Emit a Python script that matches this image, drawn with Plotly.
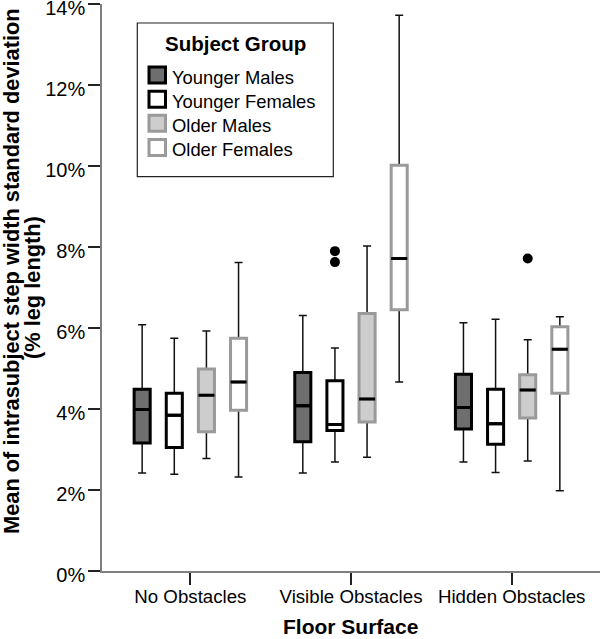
import plotly.graph_objects as go

# ---- data (values in % of leg length) ----
surfaces = ["No Obstacles", "Visible Obstacles", "Hidden Obstacles"]
groups = ["Younger Males", "Younger Females", "Older Males", "Older Females"]

lower_whisker = {
    "Younger Males":   [2.42, 2.42, 2.69],
    "Younger Females": [2.39, 2.69, 2.43],
    "Older Males":     [2.78, 2.81, 2.72],
    "Older Females":   [2.32, 4.67, 1.98],
}
q1_vals = {
    "Younger Males":   [3.16, 3.19, 3.51],
    "Younger Females": [3.05, 3.47, 3.13],
    "Older Males":     [3.44, 3.68, 3.78],
    "Older Females":   [3.97, 6.45, 4.39],
}
median_vals = {
    "Younger Males":   [3.99, 4.08, 4.04],
    "Younger Females": [3.85, 3.62, 3.64],
    "Older Males":     [4.34, 4.25, 4.47],
    "Older Females":   [4.67, 7.72, 5.48],
}
q3_vals = {
    "Younger Males":   [4.49, 4.90, 4.86],
    "Younger Females": [4.39, 4.70, 4.49],
    "Older Males":     [4.99, 6.36, 4.85],
    "Older Females":   [5.75, 10.02, 6.03],
}
upper_whisker = {
    "Younger Males":   [6.08, 6.31, 6.13],
    "Younger Females": [5.75, 5.51, 6.22],
    "Older Males":     [5.93, 8.03, 5.71],
    "Older Females":   [7.62, 13.73, 6.28],
}
# outlier points: (group, surface, values)
outlier_group = ["Younger Females", "Older Males"]
outlier_surface = ["Visible Obstacles", "Hidden Obstacles"]
outlier_values = [[7.63, 7.90], [7.72]]

y_ticks = [0, 2, 4, 6, 8, 10, 12, 14]
y_tick_text = ["0%", "2%", "4%", "6%", "8%", "10%", "12%", "14%"]

# ---- styles ----
fill_colors = {"Younger Males": "#6e6e6e", "Younger Females": "#ffffff",
               "Older Males": "#cdcdcd", "Older Females": "#ffffff"}
line_colors = {"Younger Males": "#000000", "Younger Females": "#000000",
               "Older Males": "#9a9a9a", "Older Females": "#9a9a9a"}
FONT = "Liberation Sans, Arial, sans-serif"

# plot-area geometry (pixels)
W_FIG, H_FIG = 600, 639
M_L, M_R, M_T, M_B = 102, 0, 4.3, 68.3
PW = W_FIG - M_L - M_R
PH = H_FIG - M_T - M_B


def px_x(p):
    return (p - M_L) / PW


def px_y(p):
    return (H_FIG - M_B - p) / PH


fig = go.Figure()

# layer 1: thin black whiskers
for g in groups:
    fig.add_trace(go.Box(
        x=surfaces, q1=q1_vals[g], median=median_vals[g], q3=q3_vals[g],
        lowerfence=lower_whisker[g], upperfence=upper_whisker[g],
        boxpoints=False,
        line=dict(color="#111111", width=1.5), fillcolor="rgba(0,0,0,0)",
        whiskerwidth=0.5, offsetgroup=g, legendgroup=g, showlegend=False,
        hoverinfo="skip",
    ))

# layer 2: thick coloured box
for g in groups:
    fig.add_trace(go.Box(
        x=surfaces, q1=q1_vals[g], median=median_vals[g], q3=q3_vals[g],
        lowerfence=q1_vals[g], upperfence=q3_vals[g], boxpoints=False,
        line=dict(color=line_colors[g], width=3), fillcolor=fill_colors[g],
        whiskerwidth=0, offsetgroup=g, legendgroup=g, name=g, showlegend=False,
    ))

# layer 3: black median bar
for g in groups:
    fig.add_trace(go.Box(
        x=surfaces, q1=median_vals[g], median=median_vals[g], q3=median_vals[g],
        lowerfence=median_vals[g], upperfence=median_vals[g], boxpoints=False,
        line=dict(color="#000000", width=3), fillcolor="rgba(0,0,0,0)",
        whiskerwidth=0, offsetgroup=g, legendgroup=g, showlegend=False,
        hoverinfo="skip",
    ))

# layer 4: outlier dots (points only, invisible box)
for g, s, vals in zip(outlier_group, outlier_surface, outlier_values):
    fig.add_trace(go.Box(
        x=[s] * len(vals), y=vals, boxpoints="all", jitter=0, pointpos=0,
        marker=dict(color="#000000", size=10, line=dict(width=0)),
        line=dict(color="rgba(0,0,0,0)", width=0), fillcolor="rgba(0,0,0,0)",
        whiskerwidth=0, offsetgroup=g, legendgroup=g, showlegend=False,
        hoverinfo="skip",
    ))

# ---- legend drawn as shapes + text ----
shapes = [dict(type="rect", xref="paper", yref="paper",
               x0=px_x(137.3), x1=px_x(333.3), y0=px_y(176.7), y1=px_y(23.3),
               line=dict(color="#222222", width=1.2), fillcolor="white",
               layer="above")]
annotations = [dict(text="<b>Subject Group</b>", xref="paper", yref="paper",
                    x=px_x(235.3), y=px_y(43.6), xanchor="center",
                    yanchor="middle", showarrow=False,
                    font=dict(family=FONT, size=20.5, color="#000000"))]
for i, g in enumerate(groups):
    base = 84 + 24.1 * i
    sc = base - 8.7
    shapes.append(dict(type="rect", xref="paper", yref="paper",
                       x0=px_x(149), x1=px_x(165.5),
                       y0=px_y(sc + 8), y1=px_y(sc - 8),
                       line=dict(color=line_colors[g], width=3),
                       fillcolor=fill_colors[g], layer="above"))
    annotations.append(dict(text=g, xref="paper", yref="paper",
                            x=px_x(169.5), y=px_y(base - 6.4),
                            xanchor="left", yanchor="middle", showarrow=False,
                            font=dict(family=FONT, size=18.4, color="#000000")))

# ---- axis titles ----
annotations += [
    dict(text="<b>Mean of intrasubject step width standard deviation</b>",
         xref="paper", yref="paper", x=px_x(11.5), y=px_y(271.5), textangle=-90,
         xanchor="center", yanchor="middle", showarrow=False,
         font=dict(family=FONT, size=21.8, color="#000000")),
    dict(text="<b>(% leg length)</b>",
         xref="paper", yref="paper", x=px_x(32.5), y=px_y(287.5), textangle=-90,
         xanchor="center", yanchor="middle", showarrow=False,
         font=dict(family=FONT, size=21.8, color="#000000")),
    dict(text="<b>Floor Surface</b>",
         xref="paper", yref="paper", x=px_x(350), y=px_y(626.5),
         xanchor="center", yanchor="middle", showarrow=False,
         font=dict(family=FONT, size=21, color="#000000")),
]

fig.update_layout(
    width=W_FIG, height=H_FIG,
    margin=dict(l=M_L, r=M_R, t=M_T, b=M_B, pad=0),
    paper_bgcolor="white", plot_bgcolor="white",
    boxmode="group", boxgap=0.2, boxgroupgap=0.5,
    font=dict(family=FONT, color="#000000"),
    showlegend=False,
    shapes=shapes,
    annotations=annotations,
    xaxis=dict(
        type="category", range=[-0.55, 2.55], showline=True,
        linecolor="#7f7f7f", linewidth=1.5, ticks="outside", ticklen=12,
        tickwidth=2, tickcolor="#222222", showgrid=False, zeroline=False,
        tickfont=dict(family=FONT, size=18.7, color="#000000"), automargin=False,
        ticklabelstandoff=-4,
    ),
    yaxis=dict(
        type="linear", range=[0, 14.005], tickmode="array", tickvals=y_ticks,
        ticktext=y_tick_text, showline=True,
        linecolor="#7f7f7f", linewidth=1.5, ticks="outside", ticklen=12,
        tickwidth=2, tickcolor="#222222", showgrid=False, zeroline=False,
        tickfont=dict(family=FONT, size=20, color="#000000"), automargin=False,
        ticklabeloverflow="allow", ticklabelshift=4, ticklabelstandoff=-1,
    ),
)

fig.write_html("out.html", config={"displayModeBar": False},
               post_script="document.body.style.margin='0px';")
